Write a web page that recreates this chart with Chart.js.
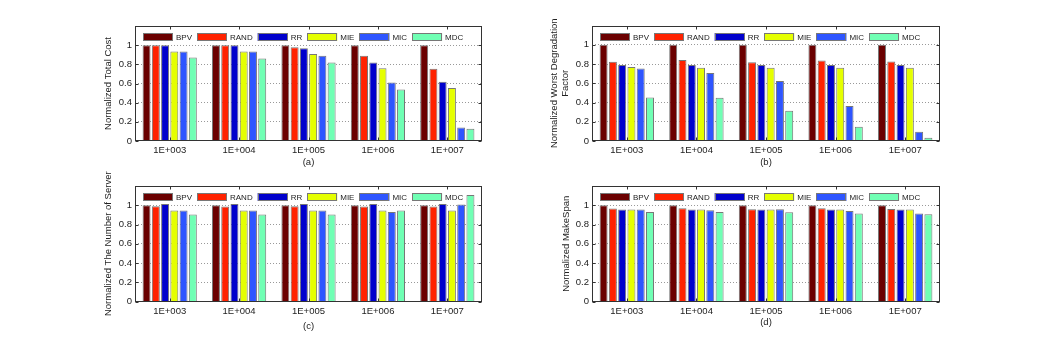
<!DOCTYPE html>
<html>
<head>
<meta charset="utf-8">
<script src="https://cdn.jsdelivr.net/npm/chart.js@4.4.1/dist/chart.umd.min.js"></script>
<style>
  body { margin: 0; background: #fff; width: 1038px; height: 339px; overflow: hidden; position: relative; }
  .panel { position: absolute; }
</style>
</head>
<body>
<div class="panel" style="left:95px;top:0px;width:395px;height:175px"><canvas id="chartA"></canvas></div>
<div class="panel" style="left:540px;top:0px;width:408px;height:175px"><canvas id="chartB"></canvas></div>
<div class="panel" style="left:95px;top:160px;width:395px;height:175px"><canvas id="chartC"></canvas></div>
<div class="panel" style="left:540px;top:160px;width:408px;height:175px"><canvas id="chartD"></canvas></div>
<script>
const categories = ['1E+003', '1E+004', '1E+005', '1E+006', '1E+007'];
const methods = ['BPV', 'RAND', 'RR', 'MIE', 'MIC', 'MDC'];
const methodColors = ['#6b0000', '#ff2200', '#0000cc', '#e5ff00', '#2e55ff', '#70ffb4'];

// rows follow methods: BPV, RAND, RR, MIE, MIC, MDC
const totalCost = [
  [1, 1, 1, 1, 1],
  [1, 1, 0.979, 0.89, 0.755],
  [1, 1, 0.969, 0.82, 0.617],
  [0.934, 0.934, 0.907, 0.759, 0.552],
  [0.934, 0.934, 0.89, 0.61, 0.141],
  [0.872, 0.862, 0.82, 0.538, 0.128]
];
const worstDegradation = [
  [1, 1, 1, 1, 1],
  [0.824, 0.841, 0.817, 0.837, 0.827],
  [0.789, 0.789, 0.789, 0.789, 0.789],
  [0.768, 0.761, 0.761, 0.761, 0.761],
  [0.754, 0.706, 0.623, 0.363, 0.097],
  [0.453, 0.45, 0.315, 0.149, 0.035]
];
const serverCount = [
  [1, 1, 1, 1, 1],
  [0.99, 0.986, 0.99, 0.986, 0.986],
  [1.014, 1.014, 1.014, 1.014, 1.014],
  [0.945, 0.945, 0.945, 0.945, 0.945],
  [0.945, 0.945, 0.945, 0.931, 1.007],
  [0.903, 0.903, 0.903, 0.945, 1.107]
];
const makeSpan = [
  [1, 1, 1, 1, 1],
  [0.965, 0.969, 0.958, 0.969, 0.962],
  [0.955, 0.955, 0.955, 0.955, 0.955],
  [0.955, 0.955, 0.955, 0.955, 0.955],
  [0.955, 0.948, 0.958, 0.941, 0.913],
  [0.93, 0.93, 0.927, 0.913, 0.906]
];

const panels = [
  { id: 'chartA', values: totalCost, yLabel: 'Normalized Total Cost', xLabel: '(a)',
    yWidth: 40, xHeight: 34, padTop: 26, yTitlePad: 8.5, xTitlePad: 7.8 },
  { id: 'chartB', values: worstDegradation, yLabel: ['Normalized Worst Degradation', 'Factor'], xLabel: '(b)',
    yWidth: 52, xHeight: 34, padTop: 25.5, yTitlePad: 9.5, xTitlePad: 7.3 },
  { id: 'chartC', values: serverCount, yLabel: 'Normalized The Number of Server', xLabel: '(c)',
    yWidth: 40, xHeight: 33.5, padTop: 26, yTitlePad: 7.8, xTitlePad: 3.8 },
  { id: 'chartD', values: makeSpan, yLabel: 'Normalized MakeSpan', xLabel: '(d)',
    yWidth: 52, xHeight: 33.5, padTop: 26, yTitlePad: 20.8, xTitlePad: 7.8 }
];

Chart.defaults.font.family = '"Liberation Sans", Arial, sans-serif';
Chart.defaults.color = '#222';

// box round the plot with small inward ticks, like matlab
const frame = {
  id: 'frame',
  afterDatasetsDraw(chart) {
    const { ctx, chartArea: a, scales: { x, y } } = chart;
    const l = Math.round(a.left) + 0.5, r = Math.round(a.right) - 0.5;
    const t = Math.round(a.top) + 0.5, b = Math.round(a.bottom) - 0.5;
    ctx.save();
    ctx.strokeStyle = '#333';
    ctx.lineWidth = 1;
    ctx.strokeRect(l, t, r - l, b - t);
    ctx.beginPath();
    y.ticks.forEach(tk => {
      const py = Math.round(y.getPixelForValue(tk.value)) + 0.5;
      ctx.moveTo(l, py); ctx.lineTo(l + 3, py);
      ctx.moveTo(r, py); ctx.lineTo(r - 3, py);
    });
    categories.forEach((c, i) => {
      const px = Math.round(x.getPixelForValue(i)) + 0.5;
      ctx.moveTo(px, b); ctx.lineTo(px, b - 3);
      ctx.moveTo(px, t); ctx.lineTo(px, t + 3);
    });
    ctx.stroke();
    ctx.restore();
  }
};

// legend sits inside the plot, on one row at the top
const insideLegend = {
  id: 'insideLegend',
  afterDatasetsDraw(chart) {
    const { ctx, chartArea } = chart;
    ctx.save();
    ctx.font = '8px "Liberation Sans", Arial, sans-serif';
    ctx.textBaseline = 'middle';
    let x = chartArea.left + 8;
    const y = Math.round(chartArea.top + 7);
    chart.data.datasets.forEach(ds => {
      ctx.fillStyle = ds.backgroundColor;
      ctx.fillRect(x, y, 30, 8);
      ctx.strokeStyle = '#777';
      ctx.lineWidth = 1;
      ctx.strokeRect(Math.round(x) + 0.5, y + 0.5, 29, 7);
      ctx.fillStyle = '#222';
      ctx.fillText(ds.label, x + 33, y + 4.5);
      x += 33 + ctx.measureText(ds.label).width + 5;
    });
    ctx.restore();
  }
};

panels.forEach(p => {
  new Chart(document.getElementById(p.id), {
    type: 'bar',
    data: {
      labels: categories,
      datasets: methods.map((m, i) => ({
        label: m,
        data: p.values[i],
        backgroundColor: methodColors[i],
        borderColor: '#777',
        borderWidth: 1,
        categoryPercentage: 0.8,
        barPercentage: 0.86
      }))
    },
    options: {
      responsive: true,
      maintainAspectRatio: false,
      animation: false,
      layout: { padding: { top: p.padTop, right: 8, left: 0, bottom: 0 } },
      plugins: { legend: { display: false }, tooltip: { enabled: false } },
      scales: {
        x: {
          grid: { display: false, drawTicks: false },
          border: { display: false },
          ticks: { font: { size: 9.5 }, padding: 3.8, color: '#222' },
          title: { display: true, text: p.xLabel, font: { size: 9.5, lineHeight: 1.1 },
                   padding: { top: 0, bottom: p.xTitlePad }, color: '#222' },
          afterFit(scale) { scale.height = p.xHeight; }
        },
        y: {
          min: 0,
          max: 1.2,
          ticks: {
            stepSize: 0.2,
            font: { size: 9.5 },
            padding: 3,
            color: '#222',
            callback: v => (v > 1.1 ? '' : String(Number(v.toFixed(1))))
          },
          grid: {
            drawTicks: false,
            color: c => (c.tick.value > 0.01 && c.tick.value < 1.1 ? '#999' : 'rgba(0,0,0,0)')
          },
          border: { display: false, dash: [1, 2] },
          title: { display: true, text: p.yLabel, font: { size: 9.5, lineHeight: 1.1 },
                   padding: { top: p.yTitlePad, bottom: 0 }, color: '#222' },
          afterFit(scale) { scale.width = p.yWidth; }
        }
      }
    },
    plugins: [frame, insideLegend]
  });
});
</script>
</body>
</html>
